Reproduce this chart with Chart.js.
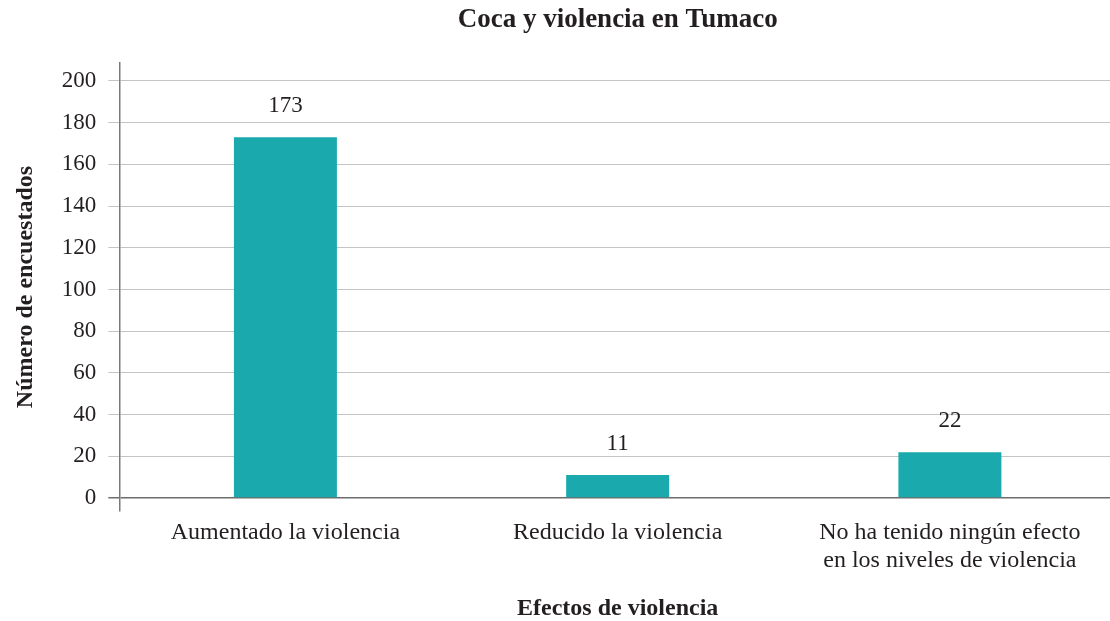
<!DOCTYPE html>
<html>
<head>
<meta charset="utf-8">
<script src="https://cdn.jsdelivr.net/npm/chart.js@4"></script>
<style>
html,body{margin:0;padding:0;background:#fff;overflow:hidden;}
#wrap{width:1116px;height:623px;}
</style>
</head>
<body>
<div id="wrap"><canvas id="c" width="1116" height="623"></canvas></div>
<script>
const categories = [
  "Aumentado la violencia",
  "Reducido la violencia",
  ["No ha tenido ningún efecto", "en los niveles de violencia"]
];
const values = [173, 11, 22];
const yTicks = [0, 20, 40, 60, 80, 100, 120, 140, 160, 180, 200];
const chartTitle = "Coca y violencia en Tumaco";
const xTitle = "Efectos de violencia";
const yTitle = "Número de encuestados";

const FONT = "'Liberation Serif', 'DejaVu Serif', serif";
const TXT = "#231f20";

const overlay = {
  id: 'overlay',
  afterDatasetsDraw(chart) {
    const ctx = chart.ctx;
    const meta = chart.getDatasetMeta(0);
    ctx.save();
    ctx.font = "23px " + FONT;
    ctx.fillStyle = TXT;
    ctx.textAlign = 'center';
    ctx.textBaseline = 'middle';
    meta.data.forEach((bar, i) => {
      ctx.fillText(String(values[i]), bar.x, bar.y - 31);
    });
    ctx.font = "bold 27px " + FONT;
    const ca = chart.chartArea;
    ctx.fillText(chartTitle, (ca.left + ca.right) / 2, 20);
    ctx.restore();
  }
};

new Chart(document.getElementById('c'), {
  type: 'bar',
  data: {
    labels: categories,
    datasets: [{
      data: values,
      backgroundColor: '#1aaaad',
      borderWidth: 0,
      barPercentage: 0.31,
      categoryPercentage: 1.0
    }]
  },
  options: {
    responsive: false,
    animation: false,
    events: [],
    layout: { padding: { top: 63, left: 11, right: 0, bottom: 0 } },
    plugins: { legend: { display: false }, tooltip: { enabled: false }, title: { display: false } },
    scales: {
      x: {
        grid: { display: false },
        border: { display: false },
        ticks: { color: TXT, font: { family: FONT, size: 24, lineHeight: 1.17 }, padding: 0, maxRotation: 0, autoSkip: false },
        title: { display: true, text: xTitle, color: TXT, font: { family: FONT, size: 24, weight: 'bold' }, padding: { top: 19, bottom: 0 } }
      },
      y: {
        min: -6.25,
        max: 208.6,
        afterBuildTicks(scale) { scale.ticks = yTicks.map(v => ({ value: v })); },
        grid: {
          color: ctx => (ctx.tick && ctx.tick.value === 0) ? '#6d6d6d' : '#c4c4c4',
          lineWidth: ctx => (ctx.tick && ctx.tick.value === 0) ? 1.5 : 1,
          tickLength: 11,
          drawTicks: true
        },
        border: { display: true, color: '#7a7a7a', width: 1.5 },
        ticks: { color: TXT, font: { family: FONT, size: 23 }, padding: 12 },
        title: { display: true, text: yTitle, color: TXT, font: { family: FONT, size: 24, weight: 'bold' }, padding: { top: 0, bottom: 10 } }
      }
    }
  },
  plugins: [overlay]
});
</script>
</body>
</html>
